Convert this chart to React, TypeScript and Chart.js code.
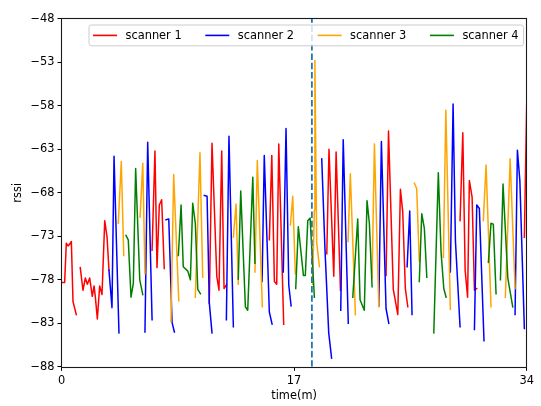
import React, { useEffect, useRef } from "react";
import { Chart, registerables } from "chart.js";

Chart.register(...registerables);

// ---- data (time in minutes, rssi in dBm); null marks a gap between segments ----
const scanner1Time = [
  0, 0.23, 0.35, 0.48, 0.6, 0.72, 0.84, 1.08, null,
  1.37, 1.57, 1.74, 1.89, 2.06, 2.25, 2.38, 2.47, 2.62, 2.79, 2.96, 3.16, 3.33, 3.47, null,
  6.62, 6.83, 6.98, 7.15, 7.32, 7.51, null,
  10.8, 11.0, 11.35, 11.51, 11.71, 11.88, 12.05, null,
  15.19, 15.37, 15.56, 15.73, 15.88, 16.24, null,
  19.39, 19.55, 19.9, 20.07, 20.39, null,
  23.72, 23.9, 24.25, 24.58, 24.77, 24.94, 25.13, 25.31, null,
  29.13, 29.33, 29.5, 29.68, 29.81, 30.01, 30.18, 30.35, null,
  33.83, 34.0,
];
const scanner1Rssi = [
  -78.3, -78.3, -73.8, -74.1, -73.9, -73.6, -80.5, -82.0, null,
  -76.6, -79.2, -77.8, -78.5, -77.8, -79.9, -78.7, -79.9, -82.5, -78.7, -79.7, -71.2, -73.1, -76.9, null,
  -74.6, -63.2, -76.6, -69.4, -68.8, -76.7, null,
  -80.7, -62.3, -77.6, -79.2, -63.2, -79.0, -78.6, null,
  -73.4, -63.7, -78.2, -78.5, -62.4, -83.1, null,
  -75.0, -63.0, -77.6, -63.3, -79.2, null,
  -77.5, -60.9, -79.1, -82.0, -67.6, -70.2, -79.0, -81.1, null,
  -71.2, -61.1, -76.9, -80.0, -66.6, -68.5, -79.2, -79.0, null,
  -73.1, -57.8,
];

const scanner2Time = [
  3.47, 3.69, 3.84, 4.2, null,
  6.1, 6.3, 6.62, null,
  7.64, 7.84, 8.08, 8.25, null,
  10.44, 10.64, 10.8, 11.0, null,
  12.05, 12.24, 12.56, null,
  14.66, 14.82, 15.19, 15.39, null,
  16.21, 16.41, 16.61, 16.78, null,
  19.02, 19.26, 19.53, 19.74, null,
  20.41, 20.59, 20.96, null,
  23.19, 23.38, 23.72, 23.92, null,
  25.26, 25.45, 25.62, null,
  28.42, 28.62, 28.79, 29.13, null,
  30.18, 30.35, 30.54, 30.88, null,
  33.15, 33.32, 33.5, 33.83,
];
const scanner2Rssi = [
  -76.9, -81.2, -63.8, -84.1, null,
  -84.0, -62.2, -82.6, null,
  -71.1, -71.0, -82.9, -84.0, null,
  -68.3, -68.4, -80.6, -84.1, null,
  -82.6, -61.5, -83.4, null,
  -78.2, -63.7, -81.7, -83.1, null,
  -77.1, -60.6, -78.6, -81.0, null,
  -64.1, -74.6, -84.1, -87.0, null,
  -81.5, -61.9, -83.0, null,
  -81.0, -62.1, -81.3, -83.0, null,
  -76.5, -70.1, -82.0, null,
  -77.1, -57.8, -73.5, -83.4, null,
  -83.7, -69.4, -69.8, -85.0, null,
  -82.0, -63.1, -66.6, -83.6,
];

const scanner3Time = [
  4.15, 4.37, 4.55, null,
  5.74, 5.94, 6.1, null,
  8.0, 8.2, 8.57, null,
  9.78, 10.12, 10.32, null,
  12.56, 12.76, 12.92, null,
  14.14, 14.31, 14.68, null,
  16.73, 16.9, 17.09, null,
  18.35, 18.48, 18.52, 18.65, 18.85, null,
  20.94, 21.11, 21.48, null,
  22.7, 22.87, 23.19, null,
  25.79, 25.96, 26.15, null,
  27.91, 28.09, 28.42, null,
  30.83, 31.03, 31.39, null,
  32.44, 32.79, 33.15,
];
const scanner3Rssi = [
  -71.5, -64.4, -75.2, null,
  -70.8, -64.6, -77.3, null,
  -82.8, -65.9, -80.4, null,
  -80.0, -63.4, -77.7, null,
  -73.1, -69.3, -78.5, null,
  -77.1, -64.3, -81.1, null,
  -71.7, -68.4, -77.3, null,
  -78.5, -70.0, -52.8, -73.7, -76.5, null,
  -73.6, -65.8, -82.0, null,
  -77.8, -62.4, -81.1, null,
  -66.9, -67.5, -75.9, null,
  -75.4, -58.5, -81.4, null,
  -71.2, -64.8, -81.1, null,
  -80.0, -64.1, -79.0,
];

const scanner4Time = [
  4.71, 4.88, 5.08, 5.25, 5.42, 5.72, 5.94, null,
  8.54, 8.74, 8.9, 9.23, 9.42, 9.59, 9.78, 9.96, 10.15, null,
  12.92, 13.1, 13.44, 13.61, 13.98, 14.14, null,
  17.12, 17.31, 17.68, 17.82, 18.0, 18.17, 18.48, null,
  21.29, 21.65, 21.82, 22.13, 22.33, 22.5, 22.7, null,
  26.15, 26.33, 26.52, 26.7, null,
  27.21, 27.54, 27.74, 27.94, 28.11, null,
  31.2, 31.39, 31.56, 31.76, null,
  32.08, 32.27, 32.62, 32.98,
];
const scanner4Rssi = [
  -72.9, -73.4, -80.0, -78.4, -65.2, -78.0, -79.7, null,
  -75.2, -69.4, -76.5, -77.0, -78.0, -69.2, -71.5, -79.1, -79.6, null,
  -77.9, -67.8, -81.1, -81.5, -66.2, -76.1, null,
  -79.0, -71.9, -77.5, -77.5, -71.2, -70.9, -80.0, null,
  -80.0, -71.0, -80.3, -81.5, -68.9, -71.5, -78.8, null,
  -78.2, -70.4, -72.1, -77.7, null,
  -84.1, -65.7, -74.8, -79.0, -80.0, null,
  -76.0, -71.5, -71.6, -79.6, null,
  -78.0, -67.0, -77.8, -81.1,
];

const seriesNames = ["scanner 1", "scanner 2", "scanner 3", "scanner 4"];
const seriesColors = ["#ff0000", "#0000ff", "#ffa500", "#008000"];
const markerTime = 18.3;
const xTicks = [0, 17, 34];
const yTicks = [-88, -83, -78, -73, -68, -63, -58, -53, -48];
const xRange = [0, 34];
const yRange = [-88, -48];

const FONT = "'DejaVu Sans', 'Liberation Sans', sans-serif";
const FS = 11.4;

function toPoints(times: (number | null)[], values: (number | null)[]) {
  const pts: { x: number; y: number | null }[] = [];
  let last = 0;
  times.forEach((t, i) => {
    const x = t == null ? last : t;
    last = x;
    pts.push({ x, y: values[i] == null ? null : (values[i] as number) });
  });
  return pts;
}

const fmt = (v: number | string) => String(v).replace("-", "\u2212");

const framePlugin = {
  id: "mplFrame",
  afterDatasetsDraw(chart: any) {
    const { ctx, chartArea: a } = chart;
    ctx.save();
    ctx.strokeStyle = "#1a1a1a";
    ctx.lineWidth = 1.1;
    const l = Math.round(a.left) - 0.5;
    const r = Math.round(a.right) - 0.5;
    const t = Math.round(a.top) - 0.5;
    const b = Math.round(a.bottom) + 0.5;
    ctx.strokeRect(l, t, r - l, b - t);
    ctx.restore();
  },
};

const legendPlugin = {
  id: "mplLegend",
  afterDraw(chart: any) {
    const { ctx, chartArea: a } = chart;
    const x0 = a.left + 27.5;
    const y0 = a.top + 6.2;
    const w = 434.6;
    const h = 20.8;
    ctx.save();
    ctx.beginPath();
    const rr = 2.5;
    ctx.moveTo(x0 + rr, y0);
    ctx.lineTo(x0 + w - rr, y0);
    ctx.quadraticCurveTo(x0 + w, y0, x0 + w, y0 + rr);
    ctx.lineTo(x0 + w, y0 + h - rr);
    ctx.quadraticCurveTo(x0 + w, y0 + h, x0 + w - rr, y0 + h);
    ctx.lineTo(x0 + rr, y0 + h);
    ctx.quadraticCurveTo(x0, y0 + h, x0, y0 + h - rr);
    ctx.lineTo(x0, y0 + rr);
    ctx.quadraticCurveTo(x0, y0, x0 + rr, y0);
    ctx.closePath();
    ctx.fillStyle = "rgba(255,255,255,0.8)";
    ctx.fill();
    ctx.strokeStyle = "#cccccc";
    ctx.lineWidth = 1;
    ctx.stroke();
    const cy = y0 + h / 2;
    ctx.font = `${FS}px ${FONT}`;
    ctx.textBaseline = "middle";
    ctx.textAlign = "left";
    for (let i = 0; i < 4; i++) {
      const ds = chart.data.datasets[i];
      const lx = x0 + 4 + i * 112.3;
      ctx.beginPath();
      ctx.strokeStyle = ds.borderColor;
      ctx.lineWidth = 1.6;
      ctx.moveTo(lx, cy);
      ctx.lineTo(lx + 24, cy);
      ctx.stroke();
      ctx.fillStyle = "#000";
      ctx.fillText(ds.label, lx + 32.5, cy + 0.5);
    }
    ctx.restore();
  },
};

export default function App() {
  const ref = useRef<HTMLCanvasElement | null>(null);
  useEffect(() => {
    document.body.style.margin = "0";
    const canvas = ref.current!;
    const times = [scanner1Time, scanner2Time, scanner3Time, scanner4Time];
    const vals = [scanner1Rssi, scanner2Rssi, scanner3Rssi, scanner4Rssi];
    const datasets: any[] = seriesNames.map((name, i) => ({
      label: name,
      data: toPoints(times[i], vals[i]),
      borderColor: seriesColors[i],
      backgroundColor: seriesColors[i],
      borderWidth: 1.5,
      borderJoinStyle: "round",
      borderCapStyle: "square",
      pointRadius: 0,
      tension: 0,
      spanGaps: false,
      order: 4 - i,
    }));
    datasets.push({
      label: "marker",
      data: [
        { x: markerTime, y: yRange[0] },
        { x: markerTime, y: yRange[1] },
      ],
      borderColor: "#1f77b4",
      borderWidth: 1.8,
      borderDash: [6.5, 2.8],
      pointRadius: 0,
      order: 0,
    });
    const tickFont = { size: FS, family: FONT };
    const chart = new Chart(canvas, {
      type: "line",
      data: { datasets },
      options: {
        animation: false,
        responsive: false,
        maintainAspectRatio: false,
        devicePixelRatio: 1,
        layout: { padding: { top: 18.8, right: 14.3, left: 0, bottom: 0 } },
        plugins: { legend: { display: false }, tooltip: { enabled: false } },
        scales: {
          x: {
            type: "linear",
            min: xRange[0],
            max: xRange[1],
            afterBuildTicks: (s: any) => {
              s.ticks = xTicks.map((v) => ({ value: v }));
            },
            afterFit: (s: any) => {
              s.height = 39.2;
            },
            grid: { display: true, drawOnChartArea: false, drawTicks: true, tickLength: 4, color: "#000", tickColor: "#000" },
            border: { display: false },
            ticks: { color: "#000", font: tickFont, padding: 3, maxRotation: 0, autoSkip: false, callback: (v: any) => fmt(v) },
            title: { display: true, text: "time(m)", color: "#000", font: tickFont, padding: { top: 0, bottom: 3 } },
          },
          y: {
            type: "linear",
            min: yRange[0],
            max: yRange[1],
            afterBuildTicks: (s: any) => {
              s.ticks = yTicks.map((v) => ({ value: v }));
            },
            afterFit: (s: any) => {
              s.width = 61.5;
            },
            grid: { display: true, drawOnChartArea: false, drawTicks: true, tickLength: 4, color: "#000", tickColor: "#000" },
            border: { display: false },
            ticks: { color: "#000", font: tickFont, padding: 3, autoSkip: false, callback: (v: any) => fmt(v) },
            title: { display: true, text: "rssi", color: "#000", font: tickFont, padding: { top: 11, bottom: 0 } },
          },
        },
      },
      plugins: [framePlugin, legendPlugin],
    } as any);
    return () => chart.destroy();
  }, []);
  return <canvas ref={ref} width={541} height={406} style={{ display: "block", width: 541, height: 406 }} />;
}
